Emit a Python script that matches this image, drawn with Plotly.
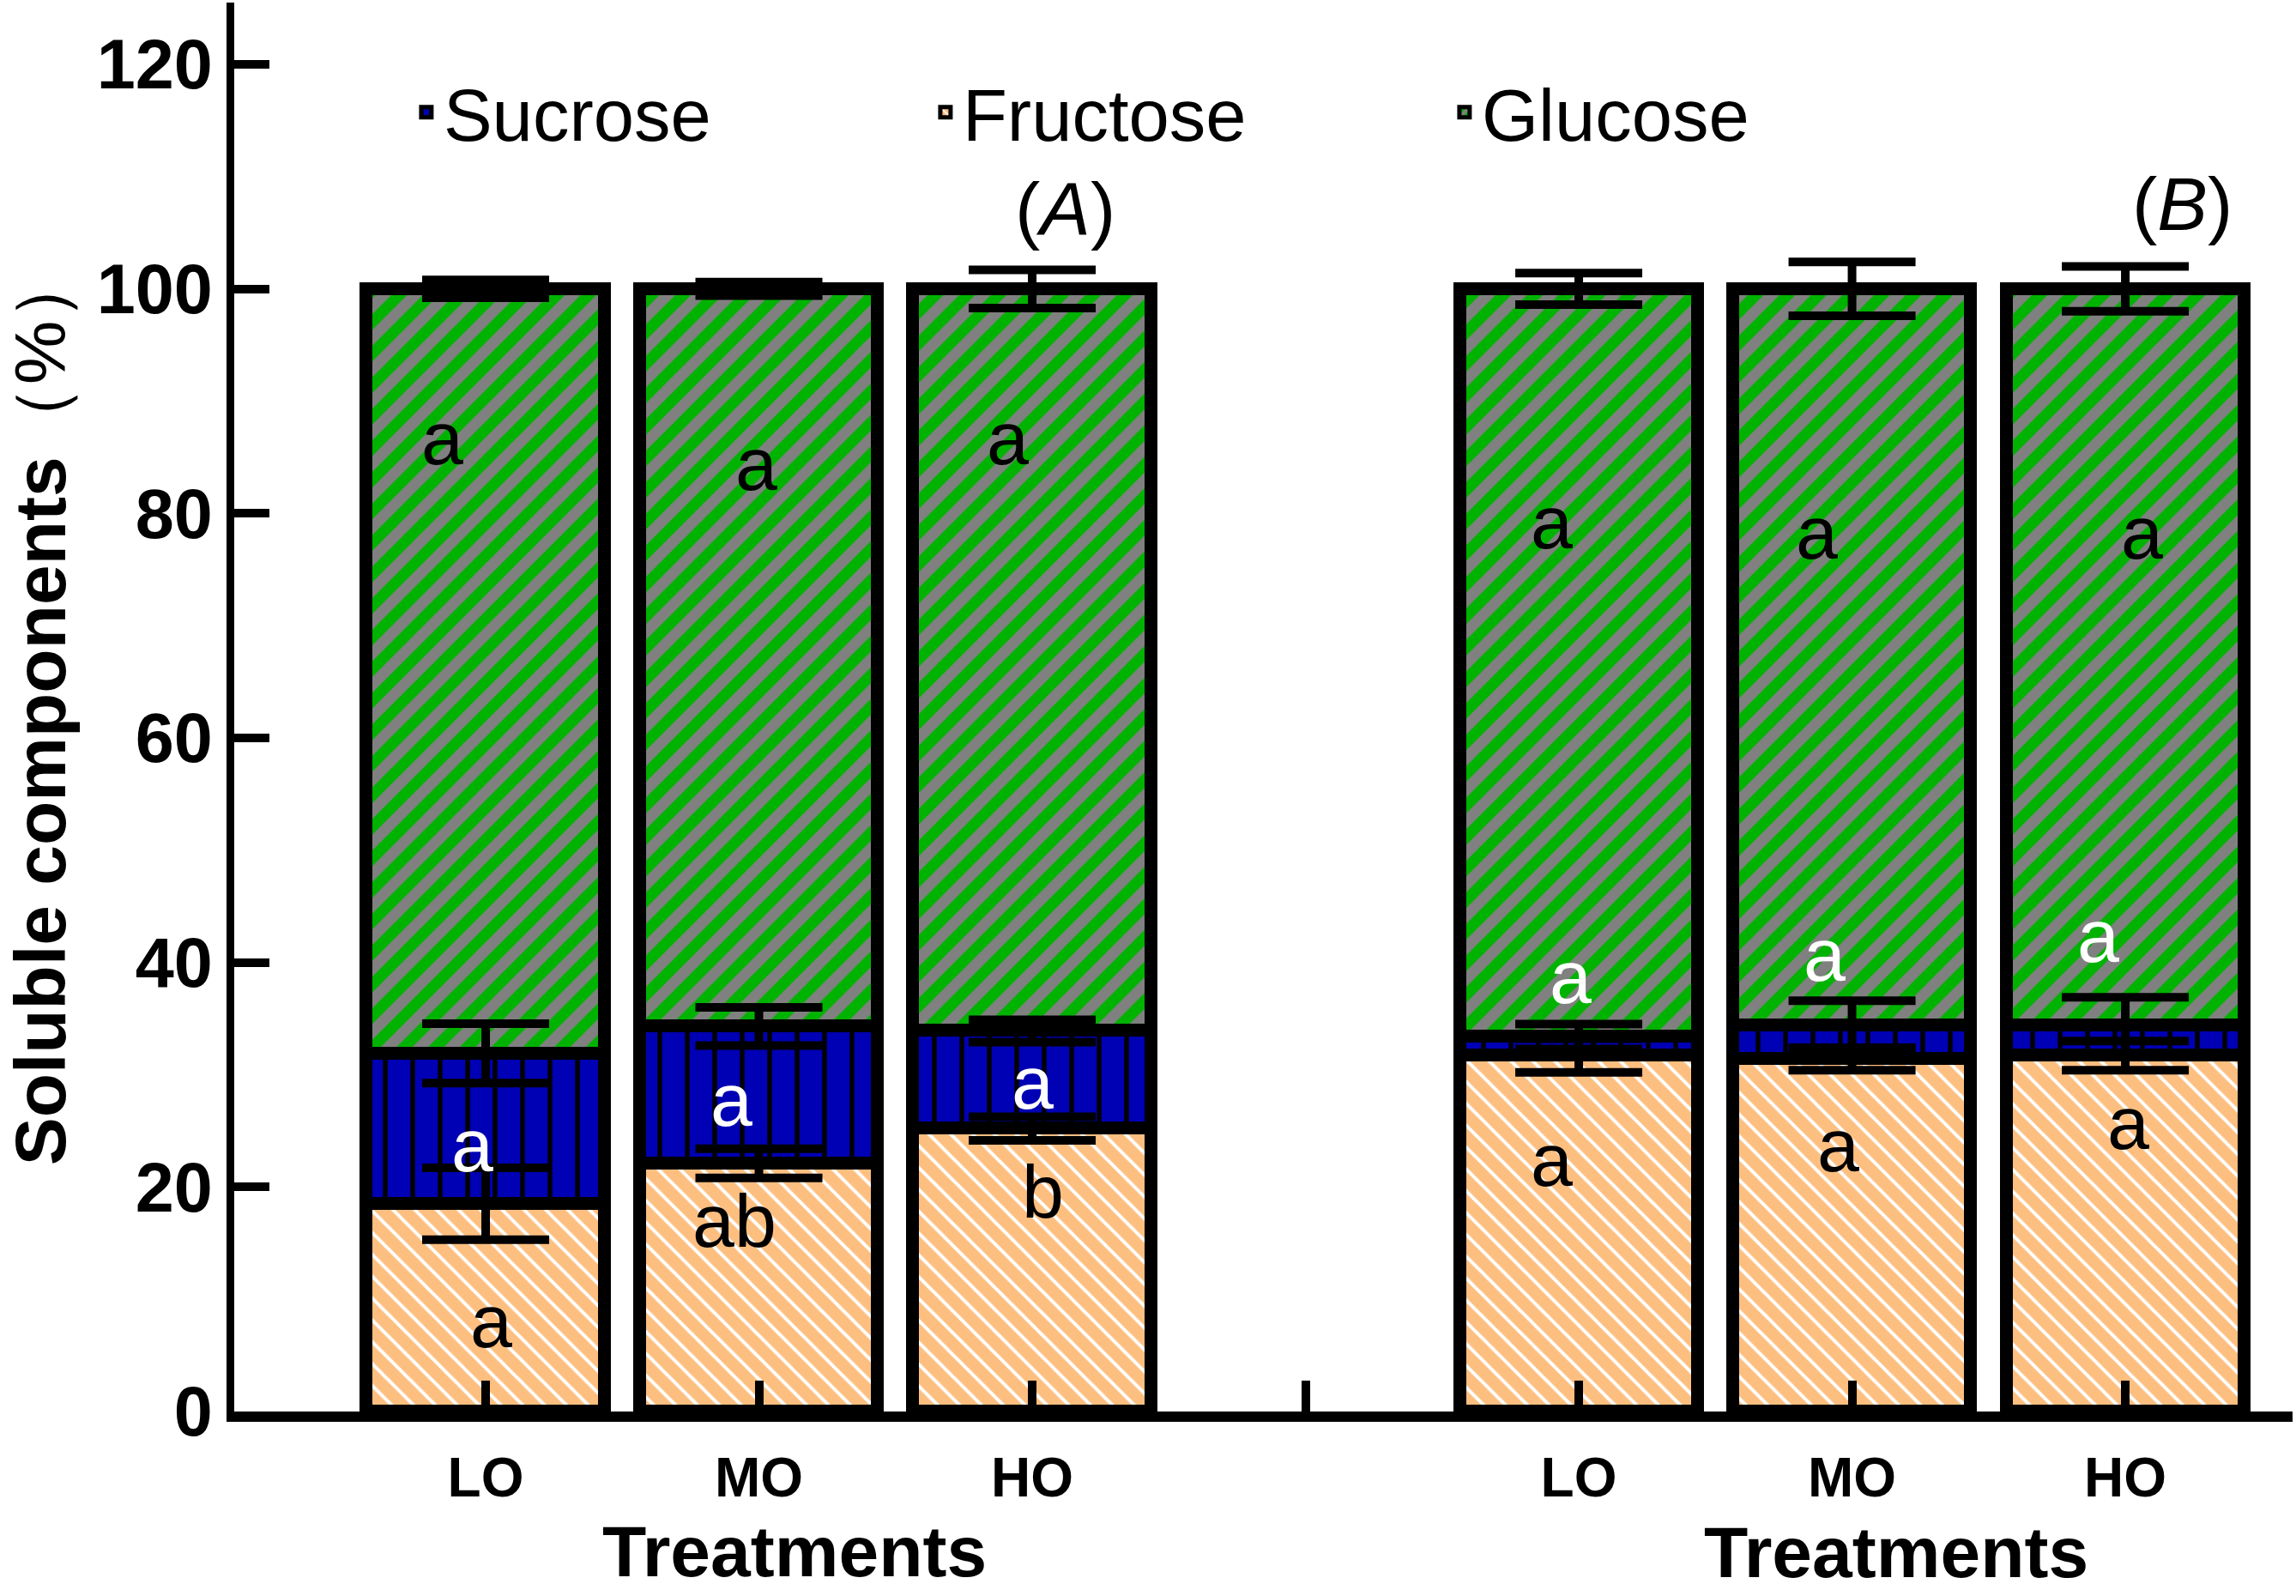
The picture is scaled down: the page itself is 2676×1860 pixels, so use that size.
import numpy as np
import plotly.graph_objects as go

# ---------------- data ----------------
groups = ["A", "B"]
treatments = ["LO", "MO", "HO"]

fructose = [18.5, 22.1, 25.2, 31.7, 31.4, 31.7]
sucrose = [13.4, 12.2, 8.7, 1.7, 3.0, 2.7]
glucose = [68.1, 65.7, 66.1, 66.6, 65.6, 65.6]

fructose_err = [3.2, 1.3, 1.05, 1.5, 1.0, 1.3]
sucrose_err = [2.65, 1.7, 1.0, 1.1, 2.2, 2.5]
glucose_err = [0.8, 0.6, 1.7, 1.4, 2.4, 2.0]

fructose_letters = ["a", "ab", "b", "a", "a", "a"]
sucrose_letters = ["a", "a", "a", "a", "a", "a"]
glucose_letters = ["a", "a", "a", "a", "a", "a"]

# ---------------- layout helpers ----------------
slots_per_group = len(treatments) + 1          # one empty slot between panels
xpos = [g * slots_per_group + t for g in range(len(groups)) for t in range(len(treatments))]
tickvals = list(range(slots_per_group * len(groups) - 1))
ticktext = [(treatments[v % slots_per_group] if v % slots_per_group < len(treatments) else "") for v in tickvals]

# letter label placement (offset from bar centre, height in axis units)
fru_lab_dx = [0.02, -0.09, 0.04, -0.10, -0.05, 0.01]
fru_lab_y = [8.1, 17.0, 19.6, 22.4, 23.7, 25.7]
suc_lab_dx = [-0.05, -0.10, 0.0, -0.03, -0.10, -0.10]
suc_lab_y = [23.7, 27.8, 29.3, 38.7, 40.7, 42.4]
glu_lab_dx = [-0.16, -0.01, -0.09, -0.10, -0.13, 0.06]
glu_lab_y = [86.7, 84.4, 86.7, 79.2, 78.3, 78.3]

FONT = "Arial, Liberation Sans, sans-serif"
BLUE = "#0000B4"
ORANGE = "#FDBF80"
GREEN = "#00B300"
GRAY = "#808080"
LW = 15
BAR_W = 0.87

fig = go.Figure()

series = [
    ("Fructose", fructose, dict(shape="\\", size=18, solidity=0.22, fgcolor="white", bgcolor=ORANGE), 2),
    ("Sucrose", sucrose, dict(shape="|", size=32, solidity=0.17, fgcolor="black", bgcolor=BLUE), 1),
    ("Glucose", glucose, dict(shape="/", size=26, solidity=0.5, fgcolor=GRAY, bgcolor=GREEN), 3),
]
for name, vals, pat, rank in series:
    fig.add_trace(go.Bar(
        x=xpos, y=vals, name=name, width=BAR_W, legendrank=rank,
        marker=dict(color=pat["bgcolor"], line=dict(color="black", width=LW),
                    pattern=dict(fillmode="replace", **pat)),
    ))

# error bars drawn on top of all stacked segments
tops_f = np.array(fructose)
tops_s = tops_f + np.array(sucrose)
tops_g = tops_s + np.array(glucose)
for tops, errs in [(tops_f, fructose_err), (tops_s, sucrose_err), (tops_g, glucose_err)]:
    fig.add_trace(go.Scatter(
        x=xpos, y=tops, mode="markers", showlegend=False, hoverinfo="skip",
        marker=dict(size=1, color="black"),
        error_y=dict(type="data", array=errs, visible=True, color="black", thickness=10, width=74),
    ))

annotations = []
for letters, dxs, ys, col in [(fructose_letters, fru_lab_dx, fru_lab_y, "black"),
                               (sucrose_letters, suc_lab_dx, suc_lab_y, "white"),
                               (glucose_letters, glu_lab_dx, glu_lab_y, "black")]:
    for x0, lt, dx, yy in zip(xpos, letters, dxs, ys):
        annotations.append(dict(x=x0 + dx, y=yy, xref="x", yref="y", text=lt, showarrow=False,
                                font=dict(family=FONT, size=88, color=col)))

annotations.append(dict(x=2.12, y=107.1, xref="x", yref="y", text="(<i>A</i>)", showarrow=False,
                        font=dict(family=FONT, size=88, color="black")))
annotations.append(dict(x=6.21, y=107.6, xref="x", yref="y", text="(<i>B</i>)", showarrow=False,
                        font=dict(family=FONT, size=88, color="black")))
annotations.append(dict(x=1.13, y=-0.099, xref="x", yref="paper", text="<b>Treatments</b>", showarrow=False,
                        yanchor="middle", font=dict(family=FONT, size=84, color="black")))
annotations.append(dict(x=5.16, y=-0.100, xref="x", yref="paper", text="<b>Treatments</b>", showarrow=False,
                        yanchor="middle", font=dict(family=FONT, size=84, color="black")))

fig.update_layout(
    width=2676, height=1860,
    margin=dict(l=273, r=4, t=3, b=215),
    paper_bgcolor="white", plot_bgcolor="white",
    barmode="stack", bargap=0,
    font=dict(family=FONT, color="black"),
    showlegend=True,
    legend=dict(orientation="h", x=0.085, y=0.922, xanchor="left", yanchor="middle",
                font=dict(family=FONT, size=85, color="black"),
                bgcolor="rgba(0,0,0,0)", entrywidth=560, traceorder="normal"),
    annotations=annotations,
    xaxis=dict(range=[-0.92, 6.612], tickmode="array", tickvals=tickvals, ticktext=ticktext,
               ticks="inside", ticklen=36, tickwidth=10, tickcolor="black",
               showline=True, linewidth=12, linecolor="black", showgrid=False, zeroline=False,
               tickfont=dict(family=FONT, size=64, color="black", weight="bold"),
               ticklabelstandoff=10),
    yaxis=dict(range=[0, 125.5], tickmode="array", tickvals=[0, 20, 40, 60, 80, 100, 120],
               ticks="inside", ticklen=41, tickwidth=10, tickcolor="black",
               showline=True, linewidth=9, linecolor="black", showgrid=False, zeroline=False,
               tickfont=dict(family=FONT, size=81, color="black", weight="bold"),
               title=dict(text="<b>Soluble components</b>（%）", standoff=35,
                          font=dict(family=FONT, size=84, color="black"))),
)

fig.write_html("out.html", config={"displayModeBar": False},
               post_script="document.body.style.margin='0';")
